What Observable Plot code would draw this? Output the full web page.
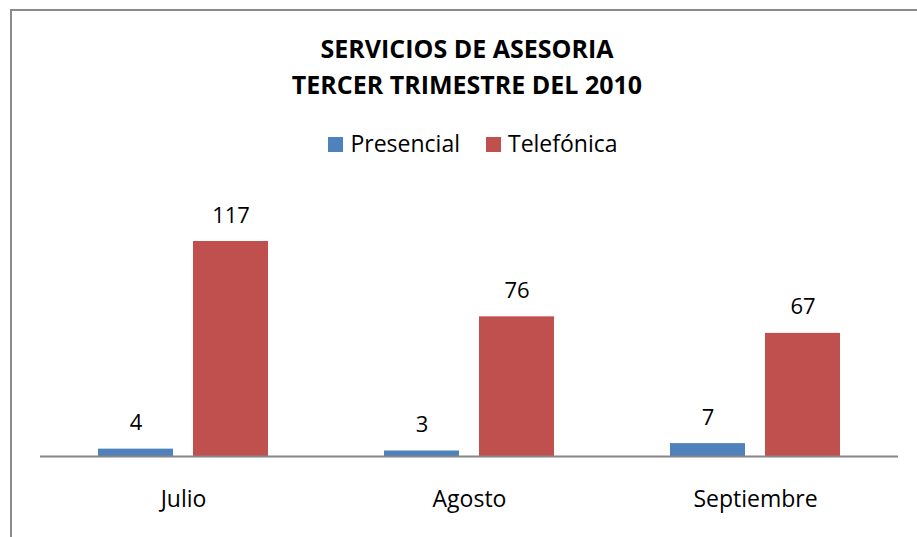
<!DOCTYPE html>
<html>
<head>
<meta charset="utf-8">
<script src="https://cdn.jsdelivr.net/npm/d3@7"></script>
<script src="https://cdn.jsdelivr.net/npm/@observablehq/plot@0.6"></script>
<style>
  html, body { margin: 0; padding: 0; background: #fff; width: 917px; height: 537px; overflow: hidden; }
  body { position: relative; font-family: "Open Sans", sans-serif; color: #000; }
  #frame { position: absolute; left: 10px; top: 9px; width: 960px; height: 600px;
           border-left: 2px solid #8a8a8a; border-top: 2px solid #8a8a8a; box-sizing: border-box; }
  #title { position: absolute; left: 0; top: 30px; width: 934px; text-align: center;
           font-weight: 700; font-size: 25px; line-height: 36px; }
  #legend { position: absolute; left: 0; top: 128px; width: 946px; display: flex; justify-content: center;
            font-size: 23px; line-height: 31px; }
  .item { display: flex; align-items: center; margin: 0 13px; }
  .sw { width: 15px; height: 15px; margin-right: 7px; margin-top: 2px; }
  #chart { position: absolute; left: 0; top: 170px; }
</style>
</head>
<body>
<div id="frame"></div>
<div id="title">SERVICIOS DE ASESORIA<br>TERCER TRIMESTRE DEL 2010</div>
<div id="legend"></div>
<div id="chart"></div>
<script>
const months = ["Julio", "Agosto", "Septiembre"];
const series = ["Presencial", "Telefónica"];
const presencial = [4, 3, 7];
const telefonica = [117, 76, 67];
const colors = ["#4F81BD", "#C0504D"];

const data = months.flatMap((m, i) => [
  {month: m, series: series[0], value: presencial[i]},
  {month: m, series: series[1], value: telefonica[i]}
]);

const legend = d3.select("#legend");
series.forEach((s, i) => {
  const it = legend.append("div").attr("class", "item");
  it.append("div").attr("class", "sw").style("background", colors[i]);
  it.append("span").text(s);
});

const chart = Plot.plot({
  width: 917,
  height: 367,
  marginLeft: 39,
  marginRight: 19,
  marginTop: 71,
  marginBottom: 81,
  style: {fontFamily: "'Open Sans', sans-serif", fontSize: "22px", color: "#000", background: "transparent", overflow: "visible"},
  fx: {domain: months, padding: 0, label: null},
  x: {domain: series, paddingInner: 0.2083, paddingOuter: 0.595, axis: null},
  y: {domain: [0, 117], axis: null},
  color: {domain: series, range: colors},
  marks: [
    Plot.barY(data, {fx: "month", x: "series", y: "value", fill: "series"}),
    Plot.ruleY([0], {stroke: "#868686", strokeWidth: 2}),
    Plot.text(data, {fx: "month", x: "series", y: "value", text: d => String(d.value),
                     lineAnchor: "bottom", dy: -19, fill: "#000", fontSize: 22}),
    Plot.axisFx({anchor: "bottom", tickSize: 0, tickPadding: 34, label: null, fontSize: 23, fill: "#000"})
  ]
});
document.getElementById("chart").appendChild(chart);
</script>
</body>
</html>
